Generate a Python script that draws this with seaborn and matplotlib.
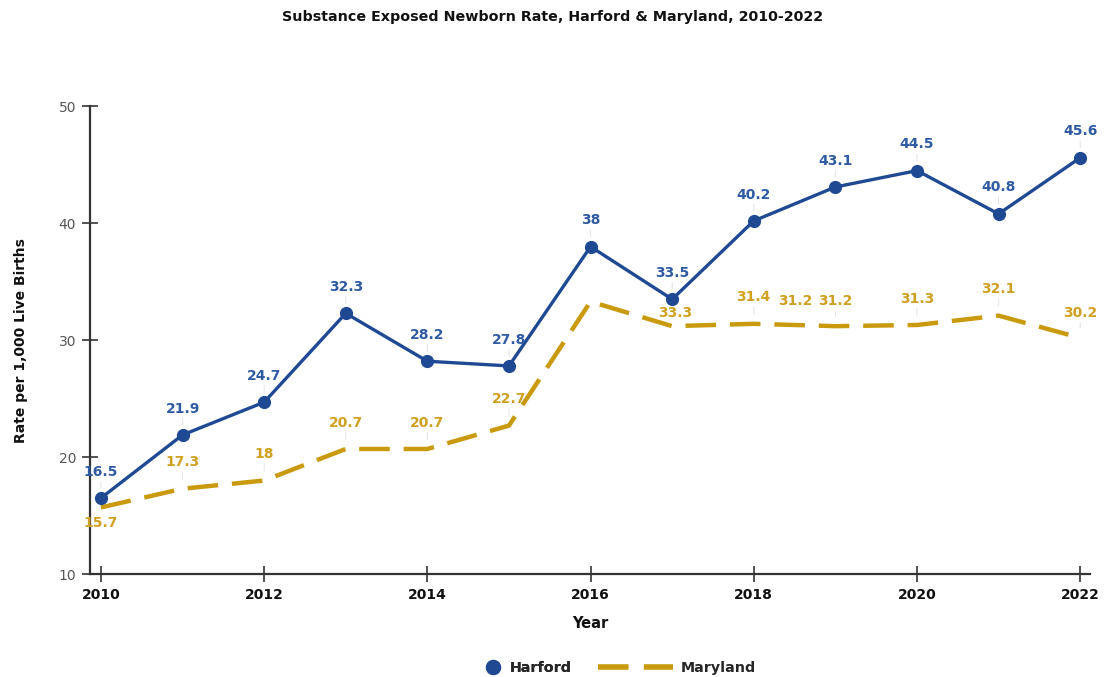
import matplotlib
matplotlib.use("Agg")
import matplotlib.pyplot as plt
from matplotlib.lines import Line2D
import seaborn as sns
import pandas as pd

years = list(range(2010, 2023))
harford = [16.5, 21.9, 24.7, 32.3, 28.2, 27.8, 38, 33.5, 40.2, 43.1, 44.5, 40.8, 45.6]
maryland = [15.7, 17.3, 18, 20.7, 20.7, 22.7, 33.3, 31.2, 31.4, 31.2, 31.3, 32.1, 30.2]
harford_labels = ["16.5", "21.9", "24.7", "32.3", "28.2", "27.8", "38", "33.5", "40.2", "43.1", "44.5", "40.8", "45.6"]
maryland_labels = ["15.7", "17.3", "18", "20.7", "20.7", "22.7", "33.3", "31.2", "31.4", "31.2", "31.3", "32.1", "30.2"]
x_ticks = [2010, 2012, 2014, 2016, 2018, 2020, 2022]
y_ticks = [10, 20, 30, 40, 50]

BLUE = "#1f4a93"
BLUE_TXT = "#2f5ba3"
GOLD = "#c99a0e"
GOLD_TXT = "#d0a020"

sns.set_theme(style="white")
plt.rcParams["font.family"] = ["DejaVu Sans"]
plt.rcParams["lines.scale_dashes"] = False

df = pd.DataFrame({"Year": years, "Harford": harford, "Maryland": maryland})

fig = plt.figure(figsize=(11.05, 6.77), dpi=100)
ax = fig.add_axes([0.0814, 0.152, 0.905, 0.691])

sns.lineplot(data=df, x="Year", y="Maryland", ax=ax, color=GOLD, linewidth=3.2,
             dashes=False, zorder=2)
md_line = ax.lines[-1]
md_line.set_linestyle((0, (22, 10)))
md_line.set_dash_capstyle("butt")
sns.lineplot(data=df, x="Year", y="Harford", ax=ax, color=BLUE, linewidth=2.4,
             marker="o", markersize=9.5, markeredgewidth=0, zorder=3)

# label offsets in points (dx, dy) from each data point
h_off = [(0, 19)] * len(years)
m_off = [(0, -11), (0, 19), (0, 19), (0, 19), (0, 19), (0, 19), (61, -8),
         (89, 18), (0, 19), (0, 18), (0, 19), (0, 19), (0, 18)]

leader = dict(arrowstyle="-", color="#e2e2e2", lw=0.7, shrinkA=0, shrinkB=7)


def put_labels(xs, ys, texts, offsets, color):
    for x, y, t, (dx, dy) in zip(xs, ys, texts, offsets):
        ax.annotate(t, (x, y), xytext=(dx, dy), textcoords="offset points",
                    ha="center", va="center", fontsize=10, fontweight="bold",
                    color=color, zorder=5)
        if dx == 0 and dy > 0:
            ax.annotate("", (x, y), xytext=(dx, dy - 7), textcoords="offset points",
                        arrowprops=leader, zorder=1)


put_labels(years, harford, harford_labels, h_off, BLUE_TXT)
put_labels(years, maryland, maryland_labels, m_off, GOLD_TXT)

ax.set_xlim(2009.865, 2022.12)
ax.set_ylim(10, 50)
ax.set_xticks(x_ticks)
ax.set_yticks(y_ticks)
ax.set_xticklabels([str(v) for v in x_ticks], fontsize=10, fontweight="bold", color="#111111")
ax.set_yticklabels([str(v) for v in y_ticks], fontsize=10, color="#555555")
ax.tick_params(axis="both", direction="inout", length=12, width=1.2, color="#333333",
               bottom=True, left=True, pad=4)

for s in ["top", "right"]:
    ax.spines[s].set_visible(False)
for s in ["left", "bottom"]:
    ax.spines[s].set_color("#333333")
    ax.spines[s].set_linewidth(1.6)

ax.set_xlabel("Year", fontsize=10.5, fontweight="bold", color="#111111", labelpad=10)
ax.set_ylabel("Rate per 1,000 Live Births", fontsize=10, fontweight="bold",
              color="#111111", labelpad=22)
fig.text(0.5, 0.975, "Substance Exposed Newborn Rate, Harford & Maryland, 2010-2022",
         ha="center", va="center", fontsize=10.3, fontweight="bold", color="#111111")

h_handle = Line2D([], [], color=BLUE, marker="o", linestyle="None", markersize=11,
                  markeredgewidth=0)
m_handle = Line2D([], [], color=GOLD, linewidth=4, linestyle=(0, (22, 11)))
leg1 = fig.legend([h_handle], ["Harford"], loc="center", bbox_to_anchor=(0.478, 0.013),
                  frameon=False, handlelength=1.2, handletextpad=0.6,
                  prop={"weight": "bold", "size": 10.3})
fig.add_artist(leg1)
fig.legend([m_handle], ["Maryland"], loc="center", bbox_to_anchor=(0.613, 0.013),
           frameon=False, handlelength=5.2, handletextpad=0.6,
           prop={"weight": "bold", "size": 10.3})

fig.savefig("out.png", dpi=100)
